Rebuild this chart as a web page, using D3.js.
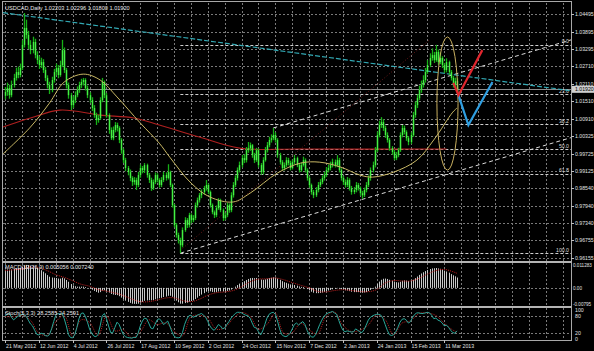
<!DOCTYPE html>
<meta charset="utf-8">
<script src="https://d3js.org/d3.v7.min.js"></script>
<body style="margin:0;background:#000;">
<div id="chart"></div>
<style>
  body { margin: 0; background: #000; }
  text { font-family: "Liberation Sans", Arial, sans-serif; }
</style>
<script>

// ---------- data ----------
var priceTicks = ["1.04495","1.03895","1.03295","1.02710","1.02110","1.01510","1.00910",
                  "1.00325","0.99725","0.99125","0.98540","0.97940","0.97340","0.96755","0.96155"];
var dateLabels = ["21 May 2012","12 Jun 2012","4 Jul 2012","26 Jul 2012","17 Aug 2012","10 Sep 2012",
                  "2 Oct 2012","24 Oct 2012","15 Nov 2012","7 Dec 2012","2 Jan 2013","24 Jan 2013",
                  "15 Feb 2013","11 Mar 2013"];
var barsPerLabel = 16;
var firstOpen = 1.0170;

var close = [
 1.0183,1.0196,1.0172,1.0207,1.0231,1.0251,1.0241,1.0265,1.0344,1.0402,
 1.0378,1.0344,1.0326,1.0354,1.0309,1.0292,1.0275,1.0285,1.0258,1.0231,
 1.0207,1.0190,1.0224,1.0251,1.0265,1.0241,1.0275,1.0326,1.0258,1.0207,
 1.0172,1.0138,1.0155,1.0172,1.0190,1.0207,1.0217,1.0224,1.0196,1.0172,
 1.0155,1.0128,1.0104,1.0087,1.0094,1.0155,1.0217,1.0172,1.0104,1.0053,
 1.0025,1.0053,1.0070,1.0060,1.0019,0.9984,0.9950,0.9923,0.9909,0.9889,
 0.9875,0.9882,0.9865,0.9899,0.9923,0.9916,0.9933,0.9899,0.9882,0.9854,
 0.9875,0.9899,0.9882,0.9865,0.9882,0.9899,0.9889,0.9909,0.9865,0.9796,
 0.9728,0.9694,0.9677,0.9659,0.9711,0.9745,0.9728,0.9762,0.9745,0.9752,
 0.9796,0.9813,0.9830,0.9841,0.9854,0.9865,0.9841,0.9796,0.9772,0.9762,
 0.9786,0.9813,0.9779,0.9752,0.9762,0.9796,0.9779,0.9830,0.9865,0.9889,
 0.9916,0.9933,0.9957,0.9950,0.9984,0.9991,1.0001,0.9967,0.9950,0.9984,
 0.9933,0.9909,0.9950,0.9984,1.0001,1.0019,1.0025,1.0036,1.0019,0.9967,
 0.9943,0.9923,0.9933,0.9950,0.9940,0.9923,0.9943,0.9957,0.9933,0.9916,
 0.9933,0.9950,0.9916,0.9889,0.9865,0.9841,0.9830,0.9848,0.9865,0.9875,
 0.9889,0.9899,0.9916,0.9923,0.9933,0.9943,0.9933,0.9950,0.9916,0.9889,
 0.9875,0.9865,0.9882,0.9854,0.9841,0.9848,0.9865,0.9854,0.9837,0.9830,
 0.9848,0.9865,0.9889,0.9916,0.9933,0.9984,1.0036,1.0070,1.0080,1.0060,
 1.0036,1.0019,0.9991,0.9978,0.9957,0.9967,0.9984,1.0036,1.0060,1.0046,
 1.0025,1.0012,1.0036,1.0104,1.0138,1.0162,1.0190,1.0207,1.0224,1.0251,
 1.0275,1.0299,1.0309,1.0292,1.0320,1.0285,1.0299,1.0275,1.0258,1.0285,
 1.0251,1.0231,1.0207,1.0220,1.0192];

var high = [
 1.0200,1.0215,1.0208,1.0222,1.0245,1.0266,1.0270,1.0280,1.0360,1.0453,
 1.0430,1.0392,1.0360,1.0372,1.0365,1.0322,1.0305,1.0300,1.0295,1.0268,
 1.0240,1.0218,1.0235,1.0262,1.0280,1.0275,1.0290,1.0361,1.0335,1.0265,
 1.0215,1.0180,1.0168,1.0185,1.0202,1.0218,1.0228,1.0231,1.0230,1.0205,
 1.0182,1.0165,1.0138,1.0112,1.0105,1.0165,1.0231,1.0222,1.0180,1.0110,
 1.0062,1.0065,1.0080,1.0078,1.0066,1.0025,0.9990,0.9958,0.9930,0.9918,
 0.9895,0.9892,0.9890,0.9910,0.9935,0.9930,0.9940,0.9938,0.9906,0.9890,
 0.9884,0.9908,0.9905,0.9888,0.9892,0.9910,0.9908,0.9936,0.9914,0.9870,
 0.9800,0.9735,0.9702,0.9685,0.9720,0.9755,0.9752,0.9770,0.9768,0.9762,
 0.9805,0.9822,0.9838,0.9850,0.9862,0.9882,0.9870,0.9846,0.9802,0.9778,
 0.9795,0.9820,0.9818,0.9785,0.9770,0.9805,0.9802,0.9840,0.9875,0.9898,
 0.9925,0.9945,0.9968,0.9970,0.9995,1.0012,1.0010,1.0005,0.9975,0.9992,
 0.9990,0.9940,0.9960,0.9995,1.0012,1.0030,1.0038,1.0060,1.0045,1.0025,
 0.9975,0.9950,0.9942,0.9960,0.9958,0.9948,0.9952,0.9968,0.9962,0.9940,
 0.9942,0.9962,0.9956,0.9922,0.9895,0.9870,0.9848,0.9858,0.9875,0.9885,
 0.9898,0.9910,0.9926,0.9935,0.9945,0.9955,0.9952,0.9967,0.9958,0.9922,
 0.9895,0.9884,0.9892,0.9888,0.9862,0.9858,0.9875,0.9872,0.9860,0.9845,
 0.9856,0.9875,0.9898,0.9925,0.9945,0.9995,1.0048,1.0085,1.0097,1.0090,
 1.0068,1.0045,1.0025,0.9998,0.9985,0.9978,0.9992,1.0045,1.0070,1.0068,
 1.0052,1.0032,1.0045,1.0115,1.0150,1.0175,1.0205,1.0222,1.0240,1.0265,
 1.0292,1.0315,1.0332,1.0320,1.0344,1.0328,1.0318,1.0305,1.0282,1.0298,
 1.0290,1.0258,1.0238,1.0232,1.0230];

var low = [
 1.0158,1.0170,1.0160,1.0165,1.0198,1.0222,1.0230,1.0233,1.0258,1.0335,
 1.0365,1.0330,1.0312,1.0315,1.0298,1.0278,1.0262,1.0265,1.0248,1.0220,
 1.0195,1.0176,1.0182,1.0215,1.0240,1.0230,1.0235,1.0268,1.0248,1.0195,
 1.0160,1.0121,1.0128,1.0145,1.0165,1.0180,1.0196,1.0205,1.0188,1.0162,
 1.0145,1.0118,1.0095,1.0070,1.0078,1.0088,1.0148,1.0162,1.0095,1.0040,
 1.0019,1.0018,1.0045,1.0048,1.0008,0.9972,0.9940,0.9912,0.9898,0.9878,
 0.9862,0.9866,0.9848,0.9858,0.9890,0.9905,0.9906,0.9890,0.9872,0.9845,
 0.9848,0.9868,0.9874,0.9856,0.9858,0.9875,0.9880,0.9884,0.9858,0.9788,
 0.9720,0.9685,0.9665,0.9632,0.9652,0.9705,0.9718,0.9720,0.9735,0.9738,
 0.9745,0.9788,0.9805,0.9820,0.9832,0.9846,0.9834,0.9788,0.9765,0.9752,
 0.9755,0.9780,0.9772,0.9742,0.9745,0.9755,0.9770,0.9772,0.9822,0.9858,
 0.9880,0.9908,0.9925,0.9940,0.9942,0.9975,0.9982,0.9958,0.9940,0.9944,
 0.9925,0.9900,0.9902,0.9945,0.9976,0.9994,1.0010,1.0018,1.0010,0.9958,
 0.9935,0.9915,0.9915,0.9926,0.9932,0.9915,0.9918,0.9936,0.9926,0.9908,
 0.9910,0.9928,0.9908,0.9880,0.9856,0.9832,0.9820,0.9824,0.9840,0.9858,
 0.9868,0.9880,0.9892,0.9908,0.9915,0.9925,0.9925,0.9926,0.9908,0.9880,
 0.9865,0.9856,0.9858,0.9846,0.9832,0.9834,0.9840,0.9846,0.9828,0.9818,
 0.9824,0.9840,0.9858,0.9880,0.9908,0.9925,0.9978,1.0028,1.0060,1.0050,
 1.0026,1.0010,0.9982,0.9968,0.9950,0.9950,0.9960,0.9978,1.0028,1.0038,
 1.0016,1.0001,1.0005,1.0030,1.0095,1.0128,1.0155,1.0180,1.0198,1.0215,
 1.0245,1.0268,1.0290,1.0282,1.0286,1.0276,1.0278,1.0265,1.0248,1.0250,
 1.0242,1.0222,1.0198,1.0198,1.0180];

// moving averages as read: [bar index, price]
var maYellow = [[-1,0.9971],[12,1.0063],[21,1.0145],[28,1.0217],[37,1.0244],[45,1.0224],[53,1.0166],
  [64,1.0077],[73,1.0008],[78,0.9960],[88,0.9872],[97,0.9824],[108,0.9807],[116,0.9837],[129,0.9906],
  [140,0.9940],[149,0.9943],[159,0.9926],[168,0.9899],[174,0.9892],[184,0.9909],[195,0.9950],
  [203,1.0019],[212,1.0114],[214,1.0128]];
var maRed = [[-1,1.0063],[12,1.0094],[26,1.0121],[45,1.0104],[61,1.0094],[73,1.0070],[92,1.0029],
  [111,0.9991],[140,0.9988],[209,0.9988]];

// drawn objects: [bar index, price]
var cyanLine = [[-1,1.0454],[268,1.0187]];
var chanLower = [[83,0.9632],[187,0.9854]];
var chanUpperStart = [127,1.0060];
var pitchRed = [[83,0.9642],[201,1.0361]];
var fibHigh = 1.0344, fibLow = 0.9632, fibStart = 83;
var fibLevels = [0, 23.6, 38.2, 50.0, 61.8, 100.0];
var ellipseBox = {i0: 204.5, i1: 214.5, top: 1.0371, bottom: 0.9916};
var redPath = [[212.3,1.0214],[214.7,1.0172],[226,1.0326]];
var bluePath = [[214.7,1.0172],[219.4,1.0070],[230.8,1.0217]];
var bid = 1.0192;

var macd = [
 0.0090,0.0091,0.0090,0.0091,0.0093,0.0095,0.0096,0.0098,0.0103,0.0110,
 0.0113,0.0112,0.0110,0.0109,0.0104,0.0098,0.0092,0.0087,0.0080,0.0072,
 0.0063,0.0055,0.0051,0.0050,0.0049,0.0046,0.0046,0.0050,0.0047,0.0039,
 0.0030,0.0019,0.0012,0.0008,0.0006,0.0006,0.0006,0.0006,0.0004,0.0000,
 -0.0004,-0.0009,-0.0015,-0.0020,-0.0024,-0.0021,-0.0013,-0.0012,-0.0016,-0.0023,
 -0.0030,-0.0033,-0.0035,-0.0036,-0.0041,-0.0048,-0.0056,-0.0063,-0.0069,-0.0074,
 -0.0078,-0.0079,-0.0079,-0.0078,-0.0073,-0.0069,-0.0064,-0.0062,-0.0061,-0.0061,
 -0.0060,-0.0056,-0.0053,-0.0051,-0.0049,-0.0045,-0.0043,-0.0039,-0.0039,-0.0044,
 -0.0054,-0.0063,-0.0071,-0.0078,-0.0078,-0.0075,-0.0073,-0.0068,-0.0065,-0.0062,
 -0.0055,-0.0048,-0.0040,-0.0033,-0.0026,-0.0019,-0.0016,-0.0017,-0.0020,-0.0022,
 -0.0021,-0.0018,-0.0017,-0.0018,-0.0018,-0.0015,-0.0013,-0.0008,-0.0001,0.0006,
 0.0014,0.0021,0.0028,0.0033,0.0039,0.0044,0.0048,0.0049,0.0048,0.0049,
 0.0046,0.0041,0.0040,0.0042,0.0045,0.0048,0.0050,0.0052,0.0051,0.0046,
 0.0040,0.0033,0.0028,0.0025,0.0021,0.0017,0.0015,0.0014,0.0011,0.0007,
 0.0005,0.0004,0.0000,-0.0006,-0.0012,-0.0019,-0.0024,-0.0026,-0.0026,-0.0025,
 -0.0023,-0.0020,-0.0016,-0.0013,-0.0010,-0.0007,-0.0005,-0.0002,-0.0003,-0.0006,
 -0.0009,-0.0012,-0.0013,-0.0016,-0.0019,-0.0021,-0.0021,-0.0021,-0.0022,-0.0024,
 -0.0023,-0.0021,-0.0016,-0.0010,-0.0004,0.0006,0.0019,0.0031,0.0040,0.0045,
 0.0046,0.0044,0.0040,0.0036,0.0031,0.0028,0.0027,0.0030,0.0035,0.0037,
 0.0036,0.0034,0.0035,0.0040,0.0048,0.0056,0.0064,0.0071,0.0077,0.0083,
 0.0088,0.0093,0.0096,0.0097,0.0098,0.0096,0.0094,0.0090,0.0085,0.0081,
 0.0075,0.0068,0.0062,0.0057,0.0051];
var macdSignal = [[0,0.0085],[4,0.0089],[8,0.0093],[12,0.0102],[16,0.0100],[20,0.0085],[24,0.0065],
  [28,0.0052],[32,0.0035],[36,0.0018],[40,0.0008],[44,-0.0008],[48,-0.0016],[52,-0.0025],[56,-0.0038],
  [60,-0.0055],[64,-0.0068],[68,-0.0068],[72,-0.0060],[76,-0.0050],[80,-0.0049],[84,-0.0062],
  [88,-0.0068],[92,-0.0056],[96,-0.0036],[100,-0.0024],[104,-0.0020],[108,-0.0013],[112,0.0006],
  [116,0.0030],[120,0.0043],[124,0.0045],[128,0.0049],[132,0.0040],[136,0.0026],[140,0.0013],
  [144,0.0000],[148,-0.0017],[152,-0.0020],[156,-0.0013],[160,-0.0009],[164,-0.0013],[168,-0.0018],
  [172,-0.0019],[176,-0.0008],[180,0.0024],[184,0.0036],[188,0.0034],[192,0.0034],[196,0.0047],
  [200,0.0068],[204,0.0085],[208,0.0091],[212,0.0080],[214,0.0072]];
var macdTicks = ["0.011283", "0.00", "-0.00795"];
var macdTickVals = [0.011283, 0, -0.00795];

var stochK = [
 80,85,88,75,66,72,78,82,85,83, 78,65,52,45,30,16,14,20,18,12,
 10,15,35,60,82,88,85,88,70,45, 15,5,4,15,40,70,88,90,78,58,
 34,20,10,8,15,45,80,88,70,45, 22,22,40,58,50,32,15,8,5,4,
 3,6,5,20,45,62,72,70,55,38, 35,50,66,70,62,50,55,62,45,25,
 10,5,4,6,22,50,68,80,82,75, 78,82,85,88,82,75,60,45,35,30,
 38,50,45,35,38,50,60,72,80,88, 92,92,90,85,82,80,72,55,40,38,
 25,14,28,50,72,85,90,92,85,62, 35,15,10,8,12,20,35,50,55,48,
 55,60,50,30,15,8,6,15,32,50, 65,78,85,90,92,95,90,85,65,45,
 30,25,28,26,24,25,35,30,25,22, 32,48,65,75,80,83,85,85,82,70,
 50,30,15,12,15,25,40,58,68,70, 65,55,60,75,85,90,90,88,88,90,
 92,90,82,70,72,65,62,55,45,48, 40,30,22,20,28];
var stochD = [[0,78],[4,76],[8,82],[12,65],[16,20],[20,13],[24,59],[28,81],[32,8],[36,66],[40,57],
  [44,11],[48,80],[52,28],[56,32],[60,4],[64,24],[68,66],[72,50],[76,56],[80,27],[84,11],[88,77],
  [92,82],[96,72],[100,34],[104,39],[108,70],[112,91],[116,78],[120,34],[124,50],[128,89],[132,20],
  [136,22],[140,54],[144,31],[148,18],[152,78],[156,93],[160,47],[164,26],[168,30],[172,48],[176,83],
  [180,67],[184,14],[188,55],[192,63],[196,88],[200,90],[204,81],[208,54],[212,31],[214,24]];
var stochTicks = [[100,"100"],[80,"80"],[20,"20"],[0,"0"]];

var titleMain = "USDCAD,Daily  1.02203 1.02296 1.01800 1.01920";
var titleMacd = "MACD(12,26,9) 0.005056 0.007240";
var titleStoch = "Stoch(5,3,3) 28.2585 24.2591";

// ---------- layout ----------
var W = 594, H = 351;
var L = 3, R = 571;
var mainTop = 3, mainBot = 261, macdTop = 263, macdBot = 306, stTop = 308, stBot = 340;

var svg = d3.select("#chart").append("svg")
  .attr("width", W).attr("height", H)
  .style("display", "block").style("background", "#000");

var x = d3.scaleLinear().domain([-1, 268]).range([L, R]);
var y = d3.scaleLinear().domain([0.96155, 1.04495]).range([258, 14]);
var yM = d3.scaleLinear().domain([-0.00795, 0.011283]).range([304, 265]);
var yS = d3.scaleLinear().domain([0, 100]).range([339, 310]);
var px = function(v) { return Math.round(v) + 0.5; };

var defs = svg.append("defs");
[["cMain", mainTop, mainBot], ["cMacd", macdTop, macdBot], ["cSt", stTop, stBot]].forEach(function(c) {
  defs.append("clipPath").attr("id", c[0]).append("rect")
    .attr("x", L).attr("y", c[1]).attr("width", R - L).attr("height", c[2] - c[1]);
});

var gridCol = "#7a7a7a";

// vertical grid through all panels
var vgrid = d3.range(0, 265, 8);
[[mainTop, mainBot], [macdTop, macdBot], [stTop, stBot]].forEach(function(p) {
  svg.append("g").selectAll("line").data(vgrid).join("line")
    .attr("x1", d => px(x(d))).attr("x2", d => px(x(d)))
    .attr("y1", p[0]).attr("y2", p[1])
    .attr("stroke", gridCol).attr("stroke-width", 1).attr("stroke-dasharray", "2,2");
});

// ---------- main panel ----------
var main = svg.append("g").attr("clip-path", "url(#cMain)");

main.selectAll(".hg").data(priceTicks).join("line")
  .attr("x1", L).attr("x2", R)
  .attr("y1", d => px(y(+d))).attr("y2", d => px(y(+d)))
  .attr("stroke", gridCol).attr("stroke-dasharray", "2,2");

// bid line
main.append("line").attr("x1", L).attr("x2", R)
  .attr("y1", px(y(bid))).attr("y2", px(y(bid)))
  .attr("stroke", "#8c8c8c").attr("stroke-width", 1);

// fibonacci levels
var fibPrice = function(l) { return fibHigh - l / 100 * (fibHigh - fibLow); };
main.selectAll(".fib").data(fibLevels).join("line")
  .attr("x1", x(fibStart)).attr("x2", R)
  .attr("y1", d => px(y(fibPrice(d)))).attr("y2", d => px(y(fibPrice(d))))
  .attr("stroke", "#cfcfcf").attr("stroke-dasharray", "3,2");
main.selectAll(".fibt").data(fibLevels).join("text")
  .attr("x", R - 2).attr("y", d => y(fibPrice(d)) - 1.5)
  .attr("text-anchor", "end").attr("fill", "#d8d8d8").style("font-size", "5.2px")
  .text(d => d.toFixed(1));

// channel
var slope = (chanLower[1][1] - chanLower[0][1]) / (chanLower[1][0] - chanLower[0][0]);
main.append("line")
  .attr("x1", x(chanLower[0][0])).attr("y1", y(chanLower[0][1]))
  .attr("x2", x(268)).attr("y2", y(chanLower[0][1] + slope * (268 - chanLower[0][0])))
  .attr("stroke", "#dcdcdc").attr("stroke-dasharray", "4,3");
main.append("line")
  .attr("x1", x(chanUpperStart[0])).attr("y1", y(chanUpperStart[1]))
  .attr("x2", x(268)).attr("y2", y(chanUpperStart[1] + slope * (268 - chanUpperStart[0])))
  .attr("stroke", "#dcdcdc").attr("stroke-dasharray", "4,3");

// faint dark red line
main.append("line")
  .attr("x1", x(pitchRed[0][0])).attr("y1", y(pitchRed[0][1]))
  .attr("x2", x(pitchRed[1][0])).attr("y2", y(pitchRed[1][1]))
  .attr("stroke", "#6a1818").attr("stroke-dasharray", "1,2");

// cyan trend line
main.append("line")
  .attr("x1", x(cyanLine[0][0])).attr("y1", y(cyanLine[0][1]))
  .attr("x2", x(cyanLine[1][0])).attr("y2", y(cyanLine[1][1]))
  .attr("stroke", "#32a9b4").attr("stroke-width", 1.2).attr("stroke-dasharray", "5,2");

// moving averages
var maLine = d3.line().x(d => x(d[0])).y(d => y(d[1])).curve(d3.curveCatmullRom);
main.append("path").attr("d", maLine(maRed)).attr("fill", "none")
  .attr("stroke", "#b02020").attr("stroke-width", 1.1);

// price bars
var idx = d3.range(close.length);
var openOf = function(i) { return i === 0 ? firstOpen : close[i - 1]; };
main.append("g").selectAll("line").data(idx).join("line")
  .attr("x1", i => px(x(i))).attr("x2", i => px(x(i)))
  .attr("y1", i => y(high[i])).attr("y2", i => y(low[i]))
  .attr("stroke", "#17b017").attr("stroke-width", 1.3);
main.append("g").selectAll("rect").data(idx).join("rect")
  .attr("x", i => Math.round(x(i)) - 0.2)
  .attr("width", 1.4)
  .attr("y", i => Math.min(y(openOf(i)), y(close[i])))
  .attr("height", i => Math.max(1, Math.abs(y(openOf(i)) - y(close[i]))))
  .attr("fill", "#44f044");

main.append("path").attr("d", maLine(maYellow)).attr("fill", "none")
  .attr("stroke", "#c9b865").attr("stroke-width", 1);

// ellipse
main.append("ellipse")
  .attr("cx", (x(ellipseBox.i0) + x(ellipseBox.i1)) / 2)
  .attr("cy", (y(ellipseBox.top) + y(ellipseBox.bottom)) / 2)
  .attr("rx", (x(ellipseBox.i1) - x(ellipseBox.i0)) / 2)
  .attr("ry", (y(ellipseBox.bottom) - y(ellipseBox.top)) / 2)
  .attr("fill", "none").attr("stroke", "#c9b060").attr("stroke-width", 1);

// projected zig-zags
var zz = d3.line().x(d => x(d[0])).y(d => y(d[1]));
main.append("path").attr("d", zz(bluePath)).attr("fill", "none")
  .attr("stroke", "#2f9ee0").attr("stroke-width", 2.2);
main.append("path").attr("d", zz(redPath)).attr("fill", "none")
  .attr("stroke", "#e0262e").attr("stroke-width", 2.2);

svg.append("text").attr("x", 5).attr("y", 10).attr("fill", "#e8e8e8")
  .style("font-size", "5.6px").text(titleMain);

// ---------- MACD panel ----------
var mg = svg.append("g").attr("clip-path", "url(#cMacd)");
mg.append("line").attr("x1", L).attr("x2", R).attr("y1", px(yM(0))).attr("y2", px(yM(0)))
  .attr("stroke", gridCol).attr("stroke-dasharray", "2,2");
mg.selectAll(".mh").data(idx).join("line")
  .attr("x1", i => px(x(i))).attr("x2", i => px(x(i)))
  .attr("y1", yM(0)).attr("y2", i => yM(macd[i]))
  .attr("stroke", "#c8c8c8").attr("stroke-width", 1);
mg.append("path").attr("d", d3.line().x(d => x(d[0])).y(d => yM(d[1])).curve(d3.curveCatmullRom)(macdSignal))
  .attr("fill", "none").attr("stroke", "#c02020").attr("stroke-width", 1).attr("stroke-dasharray", "1,1");
svg.append("text").attr("x", 5).attr("y", 269).attr("fill", "#e8e8e8")
  .style("font-size", "5.6px").text(titleMacd);

// ---------- Stochastic panel ----------
var sg = svg.append("g").attr("clip-path", "url(#cSt)");
[80, 20].forEach(function(l) {
  sg.append("line").attr("x1", L).attr("x2", R).attr("y1", px(yS(l))).attr("y2", px(yS(l)))
    .attr("stroke", gridCol).attr("stroke-dasharray", "2,2");
});
sg.append("path").attr("d", d3.line().x(d => x(d[0])).y(d => yS(d[1])).curve(d3.curveCatmullRom)(stochD))
  .attr("fill", "none").attr("stroke", "#b02020").attr("stroke-width", 1).attr("stroke-dasharray", "1,1");
sg.append("path").attr("d", d3.line().x(i => x(i)).y(i => yS(stochK[i]))(idx))
  .attr("fill", "none").attr("stroke", "#2aa89a").attr("stroke-width", 1);
svg.append("text").attr("x", 5).attr("y", 315).attr("fill", "#e8e8e8")
  .style("font-size", "5.6px").text(titleStoch);

// ---------- frame, separators, axes ----------
svg.append("rect").attr("x", 2.5).attr("y", 1.5).attr("width", R - 2).attr("height", stBot - 1)
  .attr("fill", "none").attr("stroke", "#a8a8a8");
[262, 307].forEach(function(s) {
  svg.append("rect").attr("x", 2).attr("y", s - 1).attr("width", R - 1.5).attr("height", 2).attr("fill", "#b4b4b4");
});

var axisTxt = function(sel) { return sel.attr("fill", "#e0e0e0").style("font-size", "5.2px"); };

svg.append("g").selectAll("text").data(priceTicks).join("text")
  .attr("x", R + 4).attr("y", d => y(+d) + 2).text(d => d).call(axisTxt);
svg.append("g").selectAll("line").data(priceTicks).join("line")
  .attr("x1", R).attr("x2", R + 3).attr("y1", d => px(y(+d))).attr("y2", d => px(y(+d)))
  .attr("stroke", "#c0c0c0");

// bid label
svg.append("rect").attr("x", R + 1).attr("y", y(bid) - 3.5).attr("width", 22).attr("height", 7)
  .attr("fill", "#cfcfcf");
svg.append("text").attr("x", R + 4).attr("y", y(bid) + 2).attr("fill", "#000")
  .style("font-size", "5.2px").text(bid.toFixed(5));

// macd axis
svg.append("g").selectAll("text").data(macdTicks).join("text")
  .attr("x", R + 2).attr("y", (d, k) => yM(macdTickVals[k]) + 2).text(d => d)
  .call(axisTxt).style("font-size", "4.6px");

// stoch axis
svg.append("g").selectAll("text").data(stochTicks).join("text")
  .attr("x", R + 4).attr("y", d => yS(d[0]) + 2).text(d => d[1]).call(axisTxt);

// date axis
var dIdx = dateLabels.map((d, k) => k * barsPerLabel);
svg.append("g").selectAll("text").data(dateLabels).join("text")
  .attr("x", (d, k) => x(dIdx[k]) + 1).attr("y", 348).text(d => d).call(axisTxt);
svg.append("g").selectAll("line").data(dIdx).join("line")
  .attr("x1", d => px(x(d))).attr("x2", d => px(x(d))).attr("y1", stBot).attr("y2", stBot + 3)
  .attr("stroke", "#c0c0c0");

</script>
</body>
